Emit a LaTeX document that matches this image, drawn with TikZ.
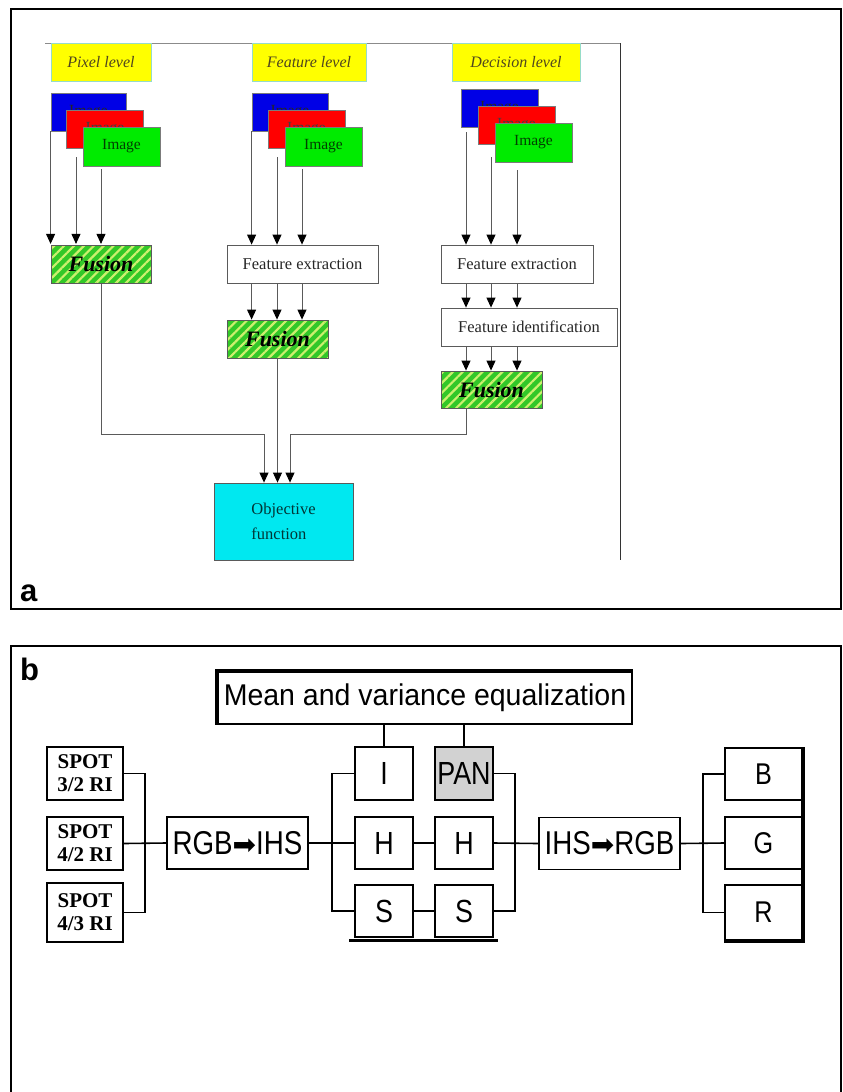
\documentclass[tikz,border=0pt]{standalone}
\usepackage{fontspec}
\setmainfont{Liberation Serif}
\newfontfamily\nsans[FakeStretch=0.84]{Liberation Sans}
\newfontfamily\msans[FakeStretch=0.95]{Liberation Sans}
\newfontfamily\lsans{Liberation Sans}
\newfontfamily\dvs{DejaVu Sans}
\usetikzlibrary{arrows.meta,patterns.meta,calc}
\definecolor{imgblue}{RGB}{0,0,230}
\definecolor{imgred}{RGB}{255,0,0}
\definecolor{imggreen}{RGB}{0,235,0}
\definecolor{lvlyellow}{RGB}{255,255,0}
\definecolor{lvlborder}{RGB}{150,220,200}
\definecolor{lvltext}{RGB}{80,70,30}
\definecolor{fusgreen}{RGB}{50,200,40}
\definecolor{fusstripe}{RGB}{205,240,110}
\definecolor{objcyan}{RGB}{0,232,240}
\definecolor{agray}{RGB}{90,90,90}
\definecolor{pangray}{RGB}{210,210,210}
\begin{document}
\begin{tikzpicture}[x=1pt,y=-1pt,
  lvl/.style={draw=lvlborder, fill=lvlyellow, line width=1pt, minimum height=38, inner sep=0,
    font=\fontsize{16}{19}\selectfont\itshape, text=lvltext},
  imgbox/.style={draw=agray!80, line width=0.8pt, minimum width=77, minimum height=38, inner sep=0,
    font=\fontsize{15.5}{18}\selectfont},
  procbox/.style={draw=agray, fill=white, line width=0.8pt, minimum height=38, inner sep=0,
    font=\fontsize{16.5}{19}\selectfont, text=black!85},
  fusbox/.style={draw=agray, line width=0.8pt, preaction={fill=fusgreen},
    pattern={Lines[angle=45,distance=7pt,line width=2.2pt]}, pattern color=fusstripe,
    minimum width=101, minimum height=38, inner sep=0,
    font=\fontsize{22}{24}\selectfont\bfseries\itshape},
  arr/.style={draw=agray, line width=0.9pt, -{Triangle[length=10pt,width=9pt,color=black]}},
  bbox/.style={draw=black, line width=1.6pt, inner sep=0, font=\fontsize{32}{34}\nsans},
  bline/.style={draw=black, line width=1.6pt},
  spotbox/.style={bbox, minimum width=76, minimum height=53, align=center,
    font=\fontsize{21}{23}\selectfont\bfseries},
  frame/.style={draw=black, line width=2.5pt}
]
\useasboundingbox (0,0) rectangle (843,1092);

% ---------------- panel a ----------------
\draw[frame] (11,9) rectangle (841,609);
\node[font=\fontsize{31}{31}\lsans\bfseries, anchor=base west, inner sep=0] (la) at (20,601) {a};
\draw[agray!70, line width=0.8pt] (45,43) -- (620,43);
\draw[black!80, line width=1pt] (620,43) -- (620,560);

\node[lvl, minimum width=100] (pl) at (101,62) {Pixel level};
\node[lvl, minimum width=114] (fl) at (309,62) {Feature level};
\node[lvl, minimum width=128] (dl) at (516,62) {Decision level};

% image stacks
\node[imgbox, fill=imgblue, minimum width=75, text=black!85] (b1) at (88.5,112) {Image};
\node[imgbox, fill=imgred, text=black!75] (r1) at (105,129) {Image};
\node[imgbox, fill=imggreen, minimum height=39, text=green!25!black] (g1) at (121.5,146.5) {Image};

\node[imgbox, fill=imgblue, minimum width=76, text=black!85] (b2) at (290,112) {Image};
\node[imgbox, fill=imgred, text=black!75] (r2) at (306.5,129) {Image};
\node[imgbox, fill=imggreen, minimum height=39, text=green!25!black] (g2) at (323.5,146.5) {Image};

\node[imgbox, fill=imgblue, text=black!85] (b3) at (499.5,108.5) {Image};
\node[imgbox, fill=imgred, text=black!75] (r3) at (516.5,125) {Image};
\node[imgbox, fill=imggreen, minimum height=39, text=green!25!black] (g3) at (533.5,142.5) {Image};

% processing boxes
\node[fusbox, minimum width=100] (f1) at (101,264) {Fusion};
\node[procbox, minimum width=151] (fe2) at (302.5,264) {Feature extraction};
\node[fusbox] (f2) at (277.5,339) {Fusion};
\node[procbox, minimum width=152] (fe3) at (517,264) {Feature extraction};
\node[procbox, minimum width=176] (fi3) at (529,327) {Feature identification};
\node[fusbox, minimum height=37] (f3) at (491.5,389.5) {Fusion};
\node[draw=agray, line width=0.8pt, fill=objcyan, minimum width=139, minimum height=77, inner sep=0,
  align=left, font=\fontsize{16.5}{25}\selectfont, text=black!30!teal!60!black] (ob) at (283.5,521.5)
  {Objective\\function};

% arrow start points
\coordinate (c1b) at (76,157);
\coordinate (c1c) at (101,169);
\coordinate (c2b) at (277,157);
\coordinate (c2c) at (302,169);
\coordinate (c3a) at (466,132);
\coordinate (c3b) at (491,157);
\coordinate (c3c) at (517,170);

\draw[arr] (b1.south west) -- (b1.south west |- f1.north);
\draw[arr] (c1b) -- (c1b |- f1.north);
\draw[arr] (c1c) -- (c1c |- f1.north);

\draw[arr] (b2.south west) -- (b2.south west |- fe2.north);
\draw[arr] (c2b) -- (c2b |- fe2.north);
\draw[arr] (c2c) -- (c2c |- fe2.north);
\draw[arr] (b2.south west |- fe2.south) -- (b2.south west |- f2.north);
\draw[arr] (c2b |- fe2.south) -- (c2b |- f2.north);
\draw[arr] (c2c |- fe2.south) -- (c2c |- f2.north);

\draw[arr] (c3a) -- (c3a |- fe3.north);
\draw[arr] (c3b) -- (c3b |- fe3.north);
\draw[arr] (c3c) -- (c3c |- fe3.north);
\draw[arr] (c3a |- fe3.south) -- (c3a |- fi3.north);
\draw[arr] (c3b |- fe3.south) -- (c3b |- fi3.north);
\draw[arr] (c3c |- fe3.south) -- (c3c |- fi3.north);
\draw[arr] (c3a |- fi3.south) -- (c3a |- f3.north);
\draw[arr] (c3b |- fi3.south) -- (c3b |- f3.north);
\draw[arr] (c3c |- fi3.south) -- (c3c |- f3.north);

\coordinate (m1) at (264,434);
\coordinate (m3) at (290,434);
\draw[arr] (f1.south) |- (m1) -- (m1 |- ob.north);
\draw[arr] (f2.south) -- (f2.south |- ob.north);
\draw[arr] (c3a |- f3.south) |- (m3) -- (m3 |- ob.north);

% ---------------- panel b ----------------
\draw[frame] (11,1092) -- (11,646) -- (841,646) -- (841,1092);
\node[font=\fontsize{31}{31}\lsans\bfseries, anchor=base west, inner sep=0] (lb) at (20,680) {b};

\node[bbox, minimum width=414, minimum height=52, font=\fontsize{30}{32}\msans] (mv) at (425,698)
  {Mean and variance equalization};
\draw[line width=4pt] (mv.south west) -- (mv.north west) -- (mv.north east);

\node[spotbox] (s1) at (85,773.5) {SPOT\\3/2 RI};
\node[spotbox] (s2) at (85,843.5) {SPOT\\4/2 RI};
\node[spotbox, minimum height=59] (s3) at (85,912.5) {SPOT\\4/3 RI};

\node[bbox, minimum width=141, minimum height=52, font=\fontsize{33}{35}\nsans] (rgb) at (237.5,843)
  {RGB{\dvs\fontsize{28}{28}\selectfont ➡}IHS};

\node[bbox, minimum width=58, minimum height=53] (I) at (384,773.5) {I};
\node[bbox, minimum width=58, minimum height=53, fill=pangray] (PAN) at (464,773.5) {PAN};
\node[bbox, minimum width=58, minimum height=52] (H) at (384,843) {H};
\node[bbox, minimum width=58, minimum height=52] (H2) at (464,843) {H};
\node[bbox, minimum width=58, minimum height=52] (S) at (384,911) {S};
\node[bbox, minimum width=58, minimum height=52] (S2) at (464,911) {S};
\draw[line width=3.5pt] ($(S.south west)+(-5,2.5)$) -- ($(S2.south east)+(4,2.5)$);

\node[bbox, minimum width=141, minimum height=52, font=\fontsize{33}{35}\nsans] (ihs) at (609.5,843.5)
  {IHS{\dvs\fontsize{28}{28}\selectfont ➡}RGB};

\node[bbox, minimum width=77, minimum height=52, font=\fontsize{30}{32}\nsans] (B) at (763.5,774) {B};
\node[bbox, minimum width=77, minimum height=52, font=\fontsize{30}{32}\nsans] (G) at (763.5,843) {G};
\node[bbox, minimum width=77, minimum height=55, font=\fontsize{30}{32}\nsans] (R) at (763.5,912.5) {R};
\draw[line width=4pt] (B.north east) -- (R.south east) -- (R.south west);

% connectors b
\coordinate (jL) at (145,843);
\coordinate (jM) at (332,843);
\coordinate (jR) at (515,843);
\coordinate (jRR) at (703,843);

\draw[bline] (s1.east) -| (jL) |- (s3.east);
\draw[bline] (s2.east) -- (rgb.west);
\draw[bline] (rgb.east) -- (H.west);
\draw[bline] (I.west) -| (jM) |- (S.west);
\draw[bline] (H.east) -- (H2.west);
\draw[bline] (S.east) -- (S2.west);
\draw[bline] (PAN.east) -| (jR) |- (S2.east);
\draw[bline] (H2.east) -- (ihs.west);
\draw[bline] (ihs.east) -- (G.west);
\draw[bline] (B.west) -| (jRR) |- (R.west);
\draw[bline] (mv.south -| I.north) -- (I.north);
\draw[bline] (mv.south -| PAN.north) -- (PAN.north);
\end{tikzpicture}
\end{document}
